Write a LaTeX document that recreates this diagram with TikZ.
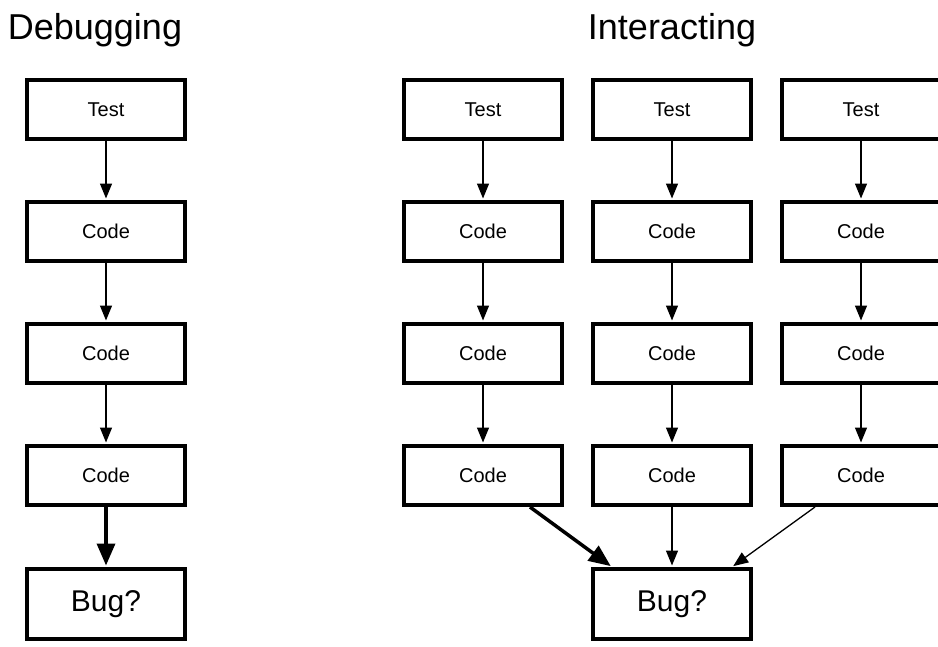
\documentclass[tikz,border=0pt]{standalone}
\usepackage{fontspec}
\setmainfont{Liberation Sans}
\usepackage{tikz}
\usetikzlibrary{arrows.meta,positioning}

\begin{document}
\begin{tikzpicture}[x=1pt,y=-1pt,
  box/.style={draw,line width=4pt,minimum width=158pt,minimum height=59pt,
    inner sep=0pt,font=\fontsize{20}{24}\selectfont},
  bugbox/.style={box,minimum height=70pt,font=\fontsize{30}{34}\selectfont},
  title/.style={font=\fontsize{36}{40}\selectfont,inner sep=0pt},
  arrow/.style={-{Triangle[length=15pt,width=12pt]},line width=1.3pt,shorten >=1.5pt},
  bigarrow/.style={-{Triangle[length=22pt,width=18pt]},line width=3.5pt,shorten >=1.5pt},
]
  \useasboundingbox (0,0) rectangle (938,646);

  % titles
  \node[title] (debugtitle) at (95,30) {Debugging};
  \node[title] (interacttitle) at (672,30) {Interacting};

  % single path
  \node[box] (test) at (106,109.5) {Test};
  \node[box] (codeA) at (106,231.5) {Code};
  \node[box] (codeB) at (106,353.5) {Code};
  \node[box] (codeC) at (106,475.5) {Code};
  \node[bugbox] (bug) at (106,604) {Bug?};
  \draw[arrow] (test) -- (codeA);
  \draw[arrow] (codeA) -- (codeB);
  \draw[arrow] (codeB) -- (codeC);
  \draw[bigarrow] (codeC) -- (bug);

  % three parallel paths
  \node[box] (testL) at (483,109.5) {Test};
  \node[box] (codeL1) at (483,231.5) {Code};
  \node[box] (codeL2) at (483,353.5) {Code};
  \node[box] (codeL3) at (483,475.5) {Code};
  \node[box] (testM) at (672,109.5) {Test};
  \node[box] (codeM1) at (672,231.5) {Code};
  \node[box] (codeM2) at (672,353.5) {Code};
  \node[box] (codeM3) at (672,475.5) {Code};
  \node[box] (testR) at (861,109.5) {Test};
  \node[box] (codeR1) at (861,231.5) {Code};
  \node[box] (codeR2) at (861,353.5) {Code};
  \node[box] (codeR3) at (861,475.5) {Code};
  \node[bugbox] (bugall) at (672,604) {Bug?};

  \draw[arrow] (testL) -- (codeL1);
  \draw[arrow] (codeL1) -- (codeL2);
  \draw[arrow] (codeL2) -- (codeL3);
  \draw[arrow] (testM) -- (codeM1);
  \draw[arrow] (codeM1) -- (codeM2);
  \draw[arrow] (codeM2) -- (codeM3);
  \draw[arrow] (testR) -- (codeR1);
  \draw[arrow] (codeR1) -- (codeR2);
  \draw[arrow] (codeR2) -- (codeR3);

  \draw[bigarrow] ([xshift=47pt]codeL3.south) -- ([xshift=-60pt]bugall.north);
  \draw[arrow] (codeM3) -- (bugall);
  \draw[arrow] ([xshift=-46pt]codeR3.south) -- ([xshift=60pt]bugall.north);
\end{tikzpicture}
\end{document}
